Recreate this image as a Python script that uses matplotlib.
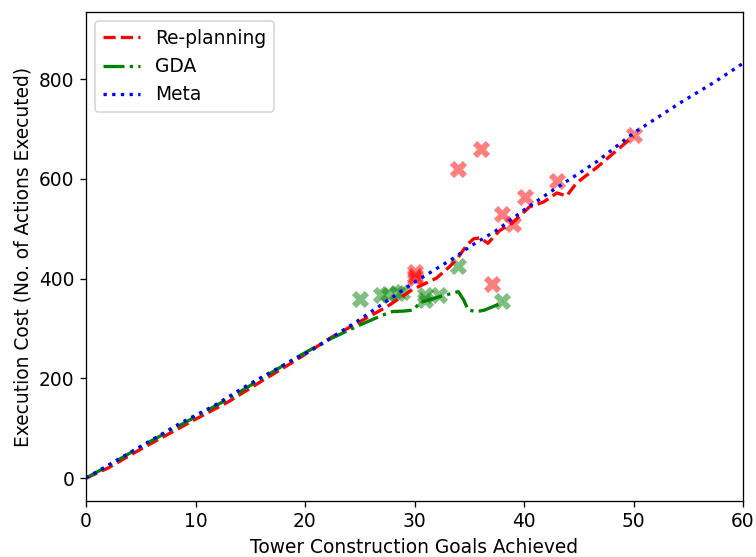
import matplotlib
matplotlib.use("Agg")
import matplotlib.pyplot as plt

plt.rcParams['font.size'] = 11.4

# Re-planning (red dashed)
replan_x = [0, 2, 5, 8, 10, 13, 16, 19, 22.3, 24.7, 27.5, 29.8, 32.0, 33.2, 33.9, 34.8, 35.4, 36.0, 36.7, 37.8, 38.9, 40.5, 41.8, 43.0, 43.9, 44.8, 46.7, 48.5, 50.0]
replan_y = [0, 20, 58, 94, 118, 153, 194, 234, 281, 310, 344, 378, 401, 424, 440, 468, 480, 482, 471, 497, 511, 544, 554, 572, 566, 592, 624, 658, 686]

# GDA (green dash-dot)
gda_x = [0, 2, 5, 8, 10, 13, 16, 19, 22, 25, 27.1, 28.0, 29.0, 29.9, 30.5, 32.3, 34.0, 34.5, 34.9, 35.7, 36.4, 37.5, 38.1]
gda_y = [0, 24, 63, 99, 123, 159, 199, 239, 276, 307, 327, 334, 335, 337, 352, 364, 374, 357, 337, 334, 337, 347, 354]

# Meta (blue dotted)
meta_x = [0, 2.35, 5.5, 8.6, 11.6, 14.8, 17.9, 21.1, 25, 30, 33.7, 35.1, 37.5, 40.2, 42.4, 46.6, 50, 54.2, 57.3, 60]
meta_y = [0, 30, 70, 110, 144, 187, 225, 263, 318, 393, 443, 465, 497, 541, 574, 634, 692, 752, 793, 832]

# Scatter points
replan_pts_x = [30.0, 30.0, 30.0, 34.0, 36.1, 37.1, 38.0, 39.0, 40.1, 43.0, 50.0]
replan_pts_y = [401, 406, 413, 621, 661, 389, 529, 509, 564, 596, 688]
gda_pts_x = [25.0, 26.9, 27.6, 28.4, 28.9, 31.0, 31.0, 32.2, 34.0, 38.0]
gda_pts_y = [359, 368, 370, 372, 374, 367, 358, 367, 425, 355]

DPI = 118
fig = plt.figure(figsize=(756 / DPI, 557 / DPI), dpi=DPI)
ax = fig.add_axes([86 / 756, 1 - 501 / 557, (743 - 86) / 756, (501 - 12) / 557])

ax.plot(replan_x, replan_y, color='red', linestyle='--', linewidth=2, label='Re-planning')
ax.plot(gda_x, gda_y, color='green', linestyle='-.', linewidth=2, label='GDA')
ax.plot(meta_x, meta_y, color='blue', linestyle=':', linewidth=2, label='Meta')

ax.scatter(replan_pts_x, replan_pts_y, marker='X', s=110, color='red', alpha=0.5, linewidths=0)
ax.scatter(gda_pts_x, gda_pts_y, marker='X', s=110, color='green', alpha=0.5, linewidths=0)

ax.set_xlim(0, 60)
ax.set_ylim(-46, 935)
ax.set_xticks([0, 10, 20, 30, 40, 50, 60])
ax.set_yticks([0, 200, 400, 600, 800])
ax.set_xlabel('Tower Construction Goals Achieved')
ax.set_ylabel('Execution Cost (No. of Actions Executed)')
ax.legend(loc='upper left')

fig.savefig('out.png', dpi=DPI)
